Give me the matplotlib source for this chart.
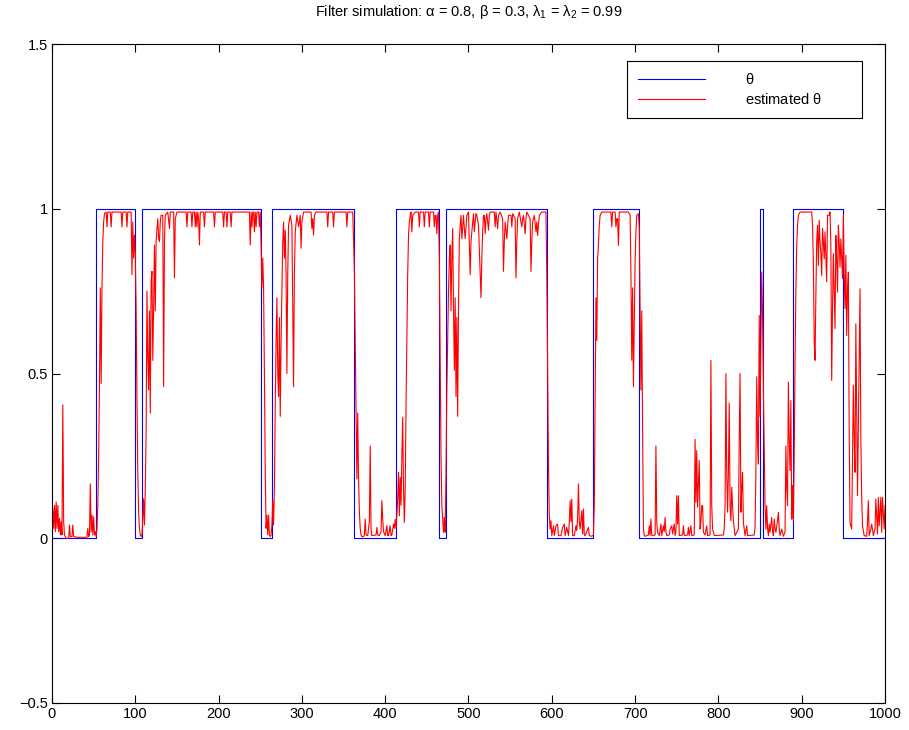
import matplotlib

matplotlib.use("Agg")
import matplotlib.pyplot as plt

plt.rcParams["font.family"] = ["Liberation Sans", "DejaVu Sans"]
plt.rcParams["mathtext.fontset"] = "custom"
plt.rcParams["mathtext.rm"] = "Liberation Sans"
plt.rcParams["mathtext.it"] = "Liberation Sans"

# true state: switches between 0 and 1 at these steps
theta_switch = [53, 100, 108, 251, 264, 363, 413, 465, 473, 594, 650, 705, 850, 853, 889, 950]
theta_start = 0
n_steps = 1000

# filter estimate, (step, value)
estimate_points = [
    (0, 0.05), (1, 0.09), (2, 0.03), (3, 0.10), (4, 0.02), (5, 0.11), (6, 0.03), (7, 0.10),
    (8, 0.02), (9, 0.06), (10, 0.01), (11, 0.05), (12, 0.01), (13, 0.405), (14, 0.05), (15, 0.01),
    (17, 0.0), (20, 0.0), (21, 0.04), (22, 0.005), (24, 0.005), (25, 0.04), (26, 0.005), (30, 0.003),
    (42, 0.003), (43, 0.03), (44, 0.005), (45, 0.01), (46, 0.165), (47, 0.02), (48, 0.07), (49, 0.01),
    (50, 0.065), (51, 0.01), (52, 0.02), (53, 0.005),
    (54, 0.03), (55, 0.10), (56, 0.25), (57, 0.47), (58, 0.76), (59, 0.47), (60, 0.76), (61, 0.90),
    (62, 0.96), (63, 0.985), (65, 0.99), (66, 0.945), (67, 0.99), (70, 0.99), (71, 0.945), (72, 0.99),
    (83, 0.99), (84, 0.945), (85, 0.99), (89, 0.99), (90, 0.945), (91, 0.99), (95, 0.99), (96, 0.80),
    (97, 0.96), (98, 0.85), (99, 0.92), (100, 0.86),
    (101, 0.70), (102, 0.42), (103, 0.20), (104, 0.08), (105, 0.03), (106, 0.01), (107, 0.005),
    (108, 0.01), (109, 0.06), (110, 0.12), (111, 0.04), (112, 0.15), (113, 0.32), (114, 0.75),
    (115, 0.55), (116, 0.45), (117, 0.69), (118, 0.38), (119, 0.78), (120, 0.81), (121, 0.54),
    (122, 0.70), (123, 0.89), (124, 0.69), (125, 0.90), (126, 0.94), (127, 0.97), (128, 0.91),
    (129, 0.90), (130, 0.96), (131, 0.98), (133, 0.98), (134, 0.46), (135, 0.90), (136, 0.98),
    (139, 0.99), (141, 0.94), (142, 0.99), (146, 0.99), (147, 0.79), (148, 0.97), (150, 0.99),
    (161, 0.99), (162, 0.945), (163, 0.99), (167, 0.99), (168, 0.945),
    (169, 0.99), (171, 0.99), (172, 0.945), (173, 0.99), (174, 0.945), (175, 0.99), (176, 0.97),
    (177, 0.89), (178, 0.99), (182, 0.99), (183, 0.945), (184, 0.99), (194, 0.99), (195, 0.945),
    (196, 0.99), (205, 0.99), (206, 0.945), (207, 0.99), (209, 0.99), (210, 0.945), (211, 0.99),
    (214, 0.99), (215, 0.945), (216, 0.99), (237, 0.99), (238, 0.89), (239, 0.99), (240, 0.945),
    (241, 0.99), (242, 0.99), (243, 0.93), (244, 0.99), (245, 0.945), (246, 0.99), (248, 0.99),
    (249, 0.945), (250, 0.99), (251, 0.89), (252, 0.76), (253, 0.85), (254, 0.76),
    (255, 0.50), (256, 0.20), (257, 0.03), (258, 0.07), (259, 0.01), (260, 0.07), (261, 0.01),
    (262, 0.005), (263, 0.01), (264, 0.04), (265, 0.115), (266, 0.04),
    (267, 0.15), (268, 0.40), (269, 0.60), (270, 0.73), (271, 0.50), (272, 0.43), (273, 0.67),
    (274, 0.37), (275, 0.60), (276, 0.75), (277, 0.90), (278, 0.96), (279, 0.85), (280, 0.935),
    (281, 0.80), (282, 0.50), (283, 0.80), (284, 0.95), (286, 0.98), (288, 0.95), (289, 0.70),
    (290, 0.46), (291, 0.80), (292, 0.93), (294, 0.98), (296, 0.945), (298, 0.98), (299, 0.88),
    (300, 0.96), (302, 0.99), (311, 0.99), (312, 0.94), (313, 0.97), (314, 0.92), (315, 0.98),
    (317, 0.99), (330, 0.99), (331, 0.945), (332, 0.99),
    (337, 0.99), (338, 0.945), (339, 0.99), (353, 0.99), (354, 0.945), (355, 0.99), (361, 0.99),
    (362, 0.91), (363, 0.81), (364, 0.60), (365, 0.38), (366, 0.18), (367, 0.38), (368, 0.18),
    (369, 0.08), (370, 0.03), (371, 0.01), (372, 0.005),
    (374, 0.005), (375, 0.01), (376, 0.058), (377, 0.01), (379, 0.008), (381, 0.05), (382, 0.28),
    (383, 0.03), (384, 0.008), (389, 0.01), (390, 0.033), (391, 0.01), (393, 0.008), (395, 0.02),
    (396, 0.114), (397, 0.058), (398, 0.02), (400, 0.008), (402, 0.038), (403, 0.008), (404, 0.008),
    (406, 0.038), (407, 0.008), (408, 0.01), (410, 0.043), (411, 0.03), (412, 0.058), (413, 0.03),
    (414, 0.068), (415, 0.12), (416, 0.20), (417, 0.068), (418, 0.185), (419, 0.10), (420, 0.25),
    (421, 0.367), (422, 0.15), (423, 0.048), (424, 0.15), (425, 0.40), (426, 0.60), (427, 0.80),
    (428, 0.92), (429, 0.96), (430, 0.98), (431, 0.99), (432, 0.93), (433, 0.98), (436, 0.99),
    (440, 0.99), (441, 0.945), (442, 0.99), (446, 0.99), (447, 0.945), (448, 0.99), (452, 0.99),
    (453, 0.945), (454, 0.99), (458, 0.99), (459, 0.945), (460, 0.98), (461, 0.98), (462, 0.924),
    (463, 0.98), (464, 0.99),
    (465, 0.85), (466, 0.55), (467, 0.25), (468, 0.10), (469, 0.058), (470, 0.018), (471, 0.063),
    (472, 0.018),
    (473, 0.20), (474, 0.45), (475, 0.60), (476, 0.75), (477, 0.85), (478, 0.89), (479, 0.69),
    (480, 0.85), (481, 0.94), (482, 0.70), (483, 0.51), (484, 0.73), (485, 0.43), (486, 0.67),
    (487, 0.37), (488, 0.70), (489, 0.909), (490, 0.95), (491, 0.98), (492, 0.909), (494, 0.98),
    (495, 0.94), (496, 0.909), (498, 0.98), (500, 0.99), (502, 0.80), (503, 0.90), (504, 0.93),
    (506, 0.985),
    (507, 0.93), (508, 0.96), (509, 0.985), (510, 0.98), (512, 0.95), (514, 0.80), (515, 0.73),
    (516, 0.85), (517, 0.93), (518, 0.98), (519, 0.98), (520, 0.924), (521, 0.97), (522, 0.985),
    (524, 0.935), (525, 0.98), (526, 0.99), (531, 0.99), (532, 0.945), (533, 0.99), (535, 0.94),
    (536, 0.98), (538, 0.99), (541, 0.97), (542, 0.81), (543, 0.90), (544, 0.96), (546, 0.909),
    (547, 0.95), (548, 0.98), (551, 0.98), (552, 0.945), (553, 0.985), (556, 0.97), (557, 0.79),
    (558, 0.90), (559, 0.97), (561, 0.99), (564, 0.945), (565, 0.97), (566, 0.98), (568, 0.924),
    (569, 0.97), (570, 0.99), (574, 0.97), (575, 0.81), (576, 0.90), (577, 0.96), (579, 0.98),
    (581, 0.93), (582, 0.96), (583, 0.919), (584, 0.95), (585, 0.98), (588, 0.99), (593, 0.99),
    (594, 0.80), (595, 0.50), (596, 0.22), (597, 0.07), (598, 0.028), (599, 0.053), (600, 0.008),
    (602, 0.038), (603, 0.008), (605, 0.038), (607, 0.043), (608, 0.008), (611, 0.008), (613, 0.033),
    (615, 0.043), (616, 0.008), (618, 0.033), (620, 0.008), (621, 0.05), (622, 0.114), (623, 0.05),
    (624, 0.119), (625, 0.008), (627, 0.008), (629, 0.038), (630, 0.023), (631, 0.06), (632, 0.165),
    (633, 0.05), (634, 0.028), (636, 0.084), (637, 0.013), (638, 0.089), (639, 0.01), (640, 0.008),
    (644, 0.033), (645, 0.008), (648, 0.006), (650, 0.01),
    (651, 0.10), (652, 0.43), (653, 0.73), (654, 0.60), (655, 0.85), (656, 0.89), (657, 0.95),
    (658, 0.98), (660, 0.99),
    (671, 0.99), (672, 0.945), (673, 0.99), (676, 0.99), (677, 0.945), (678, 0.97), (679, 0.97),
    (680, 0.889), (681, 0.99), (692, 0.99), (694, 0.98), (695, 0.80), (696, 0.54), (697, 0.76),
    (698, 0.46), (699, 0.65), (700, 0.838), (701, 0.93), (702, 0.98), (704, 0.985), (705, 0.94),
    (706, 0.70), (707, 0.45), (708, 0.69), (709, 0.33), (710, 0.028), (711, 0.008),
    (712, 0.006), (716, 0.01), (717, 0.038), (718, 0.008), (719, 0.058), (720, 0.01), (721, 0.008),
    (724, 0.01), (725, 0.28), (726, 0.05), (727, 0.018), (729, 0.008), (731, 0.043), (732, 0.008),
    (734, 0.038), (735, 0.02), (736, 0.063), (737, 0.02), (738, 0.008), (741, 0.01), (742, 0.028),
    (744, 0.038), (745, 0.013), (747, 0.043), (748, 0.008), (749, 0.02), (750, 0.129), (751, 0.043),
    (752, 0.129), (753, 0.008), (757, 0.01), (758, 0.038), (759, 0.01), (760, 0.008), (763, 0.01),
    (764, 0.033), (765, 0.008), (767, 0.038), (768, 0.008), (771, 0.01), (772, 0.30), (773, 0.109),
    (774, 0.266), (775, 0.094), (777, 0.236), (778, 0.028), (779, 0.05), (780, 0.099), (781, 0.099),
    (782, 0.018), (784, 0.01), (786, 0.038), (787, 0.008), (790, 0.01), (791, 0.54), (792, 0.10),
    (793, 0.028), (795, 0.008), (806, 0.01), (807, 0.028), (808, 0.10), (809, 0.50), (810, 0.20),
    (811, 0.079), (812, 0.20), (813, 0.41), (814, 0.10), (815, 0.053), (816, 0.155), (817, 0.10),
    (818, 0.053), (820, 0.008), (824, 0.028), (825, 0.30), (826, 0.50), (827, 0.079), (828, 0.15),
    (829, 0.20), (830, 0.048), (832, 0.008), (834, 0.038), (835, 0.008), (843, 0.01), (844, 0.033),
    (845, 0.20), (846, 0.49), (847, 0.30), (848, 0.225), (849, 0.676), (850, 0.37), (851, 0.60),
    (852, 0.808), (853, 0.676), (854, 0.45), (855, 0.28), (856, 0.10), (857, 0.028), (858, 0.099),
    (859, 0.03), (860, 0.008), (861, 0.043), (862, 0.018), (864, 0.063), (865, 0.02), (866, 0.008),
    (867, 0.058), (868, 0.03), (869, 0.018), (871, 0.053), (872, 0.079), (873, 0.03), (874, 0.008),
    (876, 0.028), (878, 0.006), (880, 0.018), (881, 0.28), (882, 0.15), (883, 0.099), (884, 0.474),
    (885, 0.30), (886, 0.205), (887, 0.418), (888, 0.058), (889, 0.16), (890, 0.053), (891, 0.25),
    (892, 0.534), (893, 0.75), (894, 0.889), (895, 0.95), (896, 0.98), (898, 0.99), (912, 0.99),
    (913, 0.95), (914, 0.838), (915, 0.60), (916, 0.54), (917, 0.737), (918, 0.90), (919, 0.95),
    (920, 0.828), (921, 0.965), (922, 0.90), (923, 0.864), (924, 0.798), (925, 0.94), (926, 0.90),
    (927, 0.848), (928, 0.93), (929, 0.85), (930, 0.778), (931, 0.98), (933, 0.98), (934, 0.99),
    (935, 0.889), (936, 0.479), (937, 0.70), (938, 0.864), (939, 0.75), (940, 0.636), (941, 0.919),
    (942, 0.85), (943, 0.747), (944, 0.95), (945, 0.90), (946, 0.823), (947, 0.909), (948, 0.85),
    (949, 0.788), (950, 0.98), (951, 0.80), (952, 0.697), (953, 0.859), (954, 0.615), (955, 0.75),
    (956, 0.808), (957, 0.332), (958, 0.048), (960, 0.028), (961, 0.25), (962, 0.464), (963, 0.30),
    (964, 0.20), (965, 0.651), (966, 0.40), (967, 0.129), (968, 0.332), (969, 0.55), (970, 0.757),
    (971, 0.30), (972, 0.129), (973, 0.038), (975, 0.008), (978, 0.006), (979, 0.05), (980, 0.114),
    (981, 0.008), (983, 0.028), (984, 0.043), (986, 0.008), (988, 0.028), (989, 0.119), (991, 0.013),
    (992, 0.124), (993, 0.038), (995, 0.124), (996, 0.018), (997, 0.124), (999, 0.028), (1000, 0.099),
]

x_ticks = [0, 100, 200, 300, 400, 500, 600, 700, 800, 900, 1000]
y_ticks = [-0.5, 0, 0.5, 1, 1.5]
y_tick_labels = ["\u22120.5", "0", "0.5", "1", "1.5"]
title = r"Filter simulation: $\alpha$ = 0.8, $\beta$ = 0.3, $\lambda_1$ = $\lambda_2$ = 0.99"
legend_labels = [r"$\theta$", r"estimated $\theta$" + "        "]


def theta_series():
    xs = [0]
    ys = [theta_start]
    level = theta_start
    for step in theta_switch:
        level = 1 - level
        xs.append(step)
        ys.append(level)
    xs.append(n_steps)
    ys.append(level)
    return xs, ys


def main() -> None:
    fig = plt.figure(figsize=(9.09, 7.30), dpi=100)
    ax = fig.add_axes([0.0572, 0.037, 0.9164, 0.9027])

    tx, ty = theta_series()
    est_x = [p[0] for p in estimate_points]
    est_y = [p[1] for p in estimate_points]

    ax.plot(tx, ty, color="#0000ff", linewidth=0.8, drawstyle="steps-post", label=legend_labels[0])
    ax.plot(est_x, est_y, color="#ff0000", linewidth=0.8, label=legend_labels[1])

    ax.set_xlim(0, 1000)
    ax.set_ylim(-0.5, 1.5)
    ax.set_xticks(x_ticks)
    ax.set_yticks(y_ticks)
    ax.set_yticklabels(y_tick_labels)
    ax.tick_params(direction="in", top=True, right=True, length=6, width=0.8, labelsize=10.5, pad=3)
    for spine in ax.spines.values():
        spine.set_linewidth(0.8)

    ax.set_title(title, fontsize=10.5, pad=20)

    leg = ax.legend(
        loc="upper right",
        bbox_to_anchor=(0.9724, 0.974),
        borderaxespad=0,
        fontsize=10.5,
        handlelength=4.6,
        handletextpad=2.7,
        borderpad=0.77,
        labelspacing=0.3,
        fancybox=False,
        framealpha=1,
        edgecolor="black",
    )
    leg.get_frame().set_linewidth(0.8)

    fig.savefig("out.png")
    plt.close(fig)


if __name__ == "__main__":
    main()
